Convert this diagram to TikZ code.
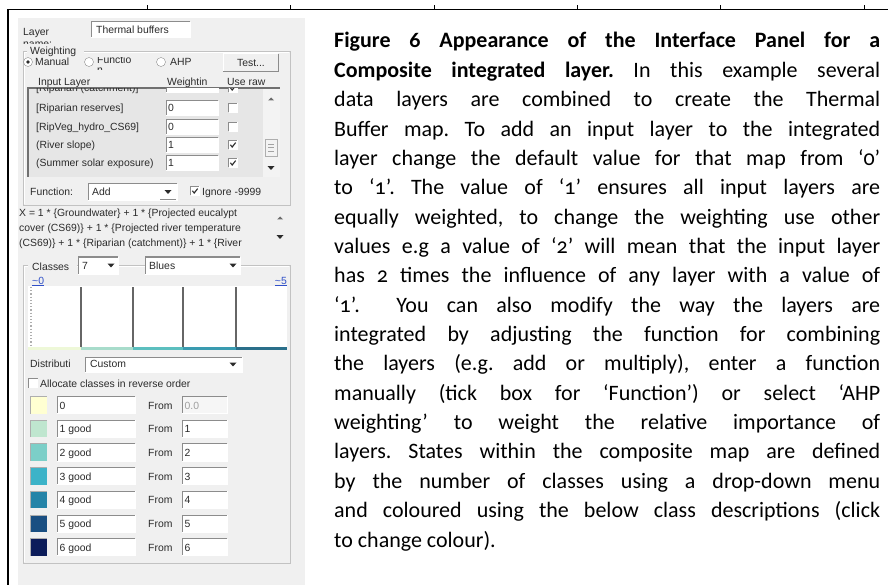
\documentclass[tikz,border=0pt]{standalone}
\usepackage{fontspec}
\setmainfont{Carlito}[Numbers=OldStyle]
\newfontfamily\uifont{Liberation Sans}
\definecolor{panelbg}{HTML}{F0F0F0}
\definecolor{listbg}{HTML}{E6E6E6}
\definecolor{scrollbg}{HTML}{F3F3F3}
\definecolor{uitext}{HTML}{2B2B2B}
\definecolor{edgedark}{HTML}{8C8C8C}
\definecolor{grpline}{HTML}{C2C2C2}
\definecolor{linkblue}{HTML}{3050C8}
\definecolor{sw0}{HTML}{FFFFD2}
\definecolor{sw1}{HTML}{BFE6CF}
\definecolor{sw2}{HTML}{7CCFC8}
\definecolor{sw3}{HTML}{3CB3C8}
\definecolor{sw4}{HTML}{2584A8}
\definecolor{sw5}{HTML}{1A4F82}
\definecolor{sw6}{HTML}{0C1C5A}
\definecolor{hb0}{HTML}{EEF8D8}
\definecolor{hb1}{HTML}{A8DCCB}
\definecolor{hb2}{HTML}{5CBFBF}
\definecolor{hb3}{HTML}{3A9BB0}
\definecolor{hb4}{HTML}{2A6F8A}
\newcommand\sunkbox[5]{%
  \fill[#5] (#1,#2) rectangle (#3,#4);
  \draw[edgedark,line width=1pt] (#1,#4) -- (#1,#2) -- (#3,#2);
  \draw[white,line width=0.8pt] (#3,#2) -- (#3,#4) -- (#1,#4);}
\newcommand\chkbox[3]{%
  \sunkbox{#1-4.5}{#2-4.5}{#1+4.5}{#2+4.5}{white}
  \ifnum#3=1 \draw[uitext,line width=1.1pt] (#1-2.6,#2-0.2) -- (#1-0.8,#2+2) -- (#1+2.7,#2-2.4);\fi}
\newcommand\dnarrow[2]{\fill[uitext] (#1-3.5,#2-1.8) -- (#1+3.5,#2-1.8) -- (#1,#2+1.8) -- cycle;}
\newcommand\uparrowhead[2]{\fill[uitext!70] (#1-3,#2+1.5) -- (#1+3,#2+1.5) -- (#1,#2-1.5) -- cycle;}
\newcommand\grpbox[4]{%
  \draw[grpline,line width=0.9pt] (#1,#2) rectangle (#3,#4);
  \draw[white,line width=0.7pt] (#1+1,#2+1) -- (#3-1,#2+1) (#1+1,#2+1) -- (#1+1,#4-1);}
\tikzset{
  ui/.style={font=\uifont\fontsize{10.4}{12}\selectfont, text=uitext, inner sep=0pt, anchor=base west},
  body/.style={font=\frenchspacing\fontsize{22}{26}\selectfont, text=black, inner sep=0pt, anchor=base west},
  border/.style={black, line width=1.8pt},
}
\newcommand\jline[1]{\makebox[546pt][s]{#1}}
\begin{document}
\begin{tikzpicture}[x=1pt,y=-1pt]
\useasboundingbox (0,0) rectangle (888,585);
\fill[white] (0,0) rectangle (888,585);
% frame of the table
\fill[panelbg] (18,18) rectangle (305,585);
\draw[border] (7,9.5) -- (888,9.5);
\draw[border] (8,9.5) -- (8,585);
\foreach \tx in {147,290,434,577,720,864} \draw[black,line width=0.7pt] (\tx,5.5) -- (\tx,9);

% ---------- Layer name
\node[ui] (lname) at (23,36) {Layer};
\begin{scope}
  \clip (18,18) rectangle (90,43.5);
  \node[ui] (lname2) at (23,47.5) {name:};
\end{scope}
\sunkbox{91}{22}{190}{37}{white}
\node[ui] (layerval) at (96,34) {Thermal buffers};

% ---------- Weighting group
\grpbox{23}{51}{290}{205}
\fill[panelbg] (27,45) rectangle (84,57);
\node[ui] (wgt) at (30,55) {Weighting};
\draw[edgedark,fill=white] (28,62) circle (4.5);
\fill[uitext] (28,62) circle (1.8);
\node[ui] (rman) at (35,66) {Manual};
\draw[edgedark,fill=white] (89,62) circle (4.5);
\begin{scope}
  \clip (95,57.3) rectangle (150,70);
  \node[ui] (rfun) at (97,63.5) {Functio};
  \node[ui] (rfun2) at (97,74) {n};
\end{scope}
\draw[edgedark,fill=white] (161,62) circle (4.5);
\node[ui] (rahp) at (170,66) {AHP};
% Test button
\fill[panelbg] (223,54) rectangle (278,72);
\draw[white,line width=1pt] (223,72) -- (223,54) -- (278,54);
\draw[edgedark,line width=1pt] (278,54) -- (278,72) -- (223,72);
\node[ui, anchor=base] (test) at (251,66.5) {Test...};
% headers
\node[ui] (hin) at (38,85.5) {Input Layer};
\node[ui] (hw) at (167,85.5) {Weightin};
\node[ui] (hr) at (227,85.5) {Use raw};
% list box
\fill[listbg] (28,88) rectangle (263,177);
\fill[scrollbg] (263,88) rectangle (280,177);
\draw[edgedark!80!black,line width=1.2pt] (28,177) -- (28,88) -- (280,88);
\begin{scope}
  \clip (29,89) rectangle (262,177);
  \node[ui] (r0) at (36,92) {[Riparian (catchment)]};
  \sunkbox{166}{80}{218}{92}{white}
  \chkbox{233}{88}{1}
\end{scope}
\node[ui] (r1) at (36,111.5) {[Riparian reserves]};
\sunkbox{166}{101}{218}{115}{white}
\node[ui] (w1) at (168,112) {0};
\chkbox{233}{108}{0}
\node[ui] (r2) at (36,130.5) {[RipVeg\_hydro\_CS69]};
\sunkbox{166}{120}{218}{134}{white}
\node[ui] (w2) at (168,131) {0};
\chkbox{233}{127}{0}
\node[ui] (r3) at (36,148.5) {(River slope)};
\sunkbox{166}{138}{218}{152}{white}
\node[ui] (w3) at (168,149) {1};
\chkbox{233}{145}{1}
\node[ui] (r4) at (36,166.5) {(Summer solar exposure)};
\sunkbox{166}{156}{218}{170}{white}
\node[ui] (w4) at (168,167) {1};
\chkbox{233}{163}{1}
% scrollbar
\uparrowhead{271}{99}
\draw[edgedark!70,fill=scrollbg] (265,139) rectangle (277,156);
\draw[edgedark!80,line width=0.6pt] (268,144) -- (274,144) (268,147.5) -- (274,147.5) (268,151) -- (274,151);
\dnarrow{271}{168}
% function row
\node[ui] (fn) at (30,196) {Function:};
\sunkbox{88}{184}{177}{200}{white}
\node[ui] (fnv) at (92,196) {Add};
\dnarrow{168}{192}
\draw[edgedark,line width=0.6pt] (160,199.5) -- (176,199.5);
\chkbox{195}{191}{1}
\node[ui] (ign) at (202,196) {Ignore -9999};

% ---------- expression
\node[ui] (ex1) at (19,217) {X = 1 * \{Groundwater\} + 1 * \{Projected eucalypt};
\node[ui] (ex2) at (19,232) {cover (CS69)\} + 1 * \{Projected river temperature};
\node[ui] (ex3) at (19,247) {(CS69)\} + 1 * \{Riparian (catchment)\} + 1 * \{River};
\uparrowhead{280}{218}
\dnarrow{280}{237}

% ---------- Classes group
\grpbox{23}{265}{290}{563}
\fill[panelbg] (28,258) rectangle (77,273);
\node[ui] (cls) at (32,270) {Classes};
\sunkbox{78}{257}{118}{274}{white}
\node[ui] (clsv) at (82,269.5) {7};
\dnarrow{111}{265.5}
\sunkbox{145}{257}{240}{274}{white}
\node[ui] (pal) at (149,269.5) {Blues};
\dnarrow{233}{265.5}
\node[ui, text=linkblue] (lo) at (32,284) {\underline{\textasciitilde 0}};
\node[ui, text=linkblue, anchor=base east] (hi) at (287,284) {\underline{\textasciitilde 5}};
% histogram
\fill[white] (28,286) rectangle (287,350);
\draw[edgedark!70,dotted,line width=1.2pt] (31,287) -- (31,347);
\foreach \hx in {81,133,183,236} \draw[gray!80!black,line width=1.3pt] (\hx,287) -- (\hx,348);
\fill[hb0] (28,347.2) rectangle (81,350.2);
\fill[hb1] (81,347.2) rectangle (133,350.2);
\fill[hb2] (133,347.2) rectangle (183,350.2);
\fill[hb3] (183,347.2) rectangle (236,350.2);
\fill[hb4] (236,347.2) rectangle (287,350.2);
% distribution
\node[ui] (dist) at (30,367.5) {Distributi};
\sunkbox{85}{357}{242}{372}{white}
\node[ui] (distv) at (90,367.5) {Custom};
\dnarrow{233}{364.5}
\chkbox{33}{383}{0}
\node[ui] (rev) at (40,387) {Allocate classes in reverse order};
% class rows
\foreach \i/\lab/\frm/\col in {0/0/0.0/sw0,1/1 good/1/sw1,2/2 good/2/sw2,3/3 good/3/sw3,4/4 good/4/sw4,5/5 good/5/sw5,6/6 good/6/sw6}{
  \pgfmathsetmacro{\cy}{405+23.7*\i}
  \fill[\col] (30,\cy-8.5) rectangle (47,\cy+8.5);
  \draw[edgedark!70,line width=1pt] (30,\cy+8.5) -- (30,\cy-8.5) -- (47,\cy-8.5);
  \sunkbox{57}{\cy-8.5}{135}{\cy+8.5}{white}
  \node[ui] (cl\i) at (59.5,\cy+4) {\lab};
  \node[ui] (fr\i) at (148,\cy+4) {From};
  \ifnum\i=0
    \sunkbox{182}{\cy-8.5}{227}{\cy+8.5}{panelbg!60!white}
    \node[ui, text=gray!75] (fv\i) at (184.5,\cy+4) {\frm};
  \else
    \sunkbox{182}{\cy-8.5}{227}{\cy+8.5}{white}
    \node[ui] (fv\i) at (184.5,\cy+4) {\frm};
  \fi
}

% ---------- caption text
\node[body] (t1) at (334,48) {\jline{\textbf{Figure 6 Appearance of the Interface Panel for a}}};
\node[body] (t2) at (334,77.35) {\jline{\textbf{Composite integrated layer.} In this example several}};
\node[body] (t3) at (334,106.7) {\jline{data layers are combined to create the Thermal}};
\node[body] (t4) at (334,136.05) {\jline{Buffer map. To add an input layer to the integrated}};
\node[body] (t5) at (334,165.4) {\jline{layer change the default value for that map from ‘0’}};
\node[body] (t6) at (334,194.75) {\jline{to ‘1’. The value of ‘1’ ensures all input layers are}};
\node[body] (t7) at (334,224.1) {\jline{equally weighted, to change the weighting use other}};
\node[body] (t8) at (334,253.45) {\jline{values e.g a value of ‘2’ will mean that the input layer}};
\node[body] (t9) at (334,282.8) {\jline{has 2 times the influence of any layer with a value of}};
\node[body] (t10) at (334,312.15) {\jline{‘1’.\ \ You can also modify the way the layers are}};
\node[body] (t11) at (334,341.5) {\jline{integrated by adjusting the function for combining}};
\node[body] (t12) at (334,370.85) {\jline{the layers (e.g. add or multiply), enter a function}};
\node[body] (t13) at (334,400.2) {\jline{manually (tick box for ‘Function’) or select ‘AHP}};
\node[body] (t14) at (334,429.55) {\jline{weighting’ to weight the relative importance of}};
\node[body] (t15) at (334,458.9) {\jline{layers. States within the composite map are defined}};
\node[body] (t16) at (334,488.25) {\jline{by the number of classes using a drop-down menu}};
\node[body] (t17) at (334,517.6) {\jline{and coloured using the below class descriptions (click}};
\node[body] (t18) at (334,547) {to change colour).};
\end{tikzpicture}
\end{document}
